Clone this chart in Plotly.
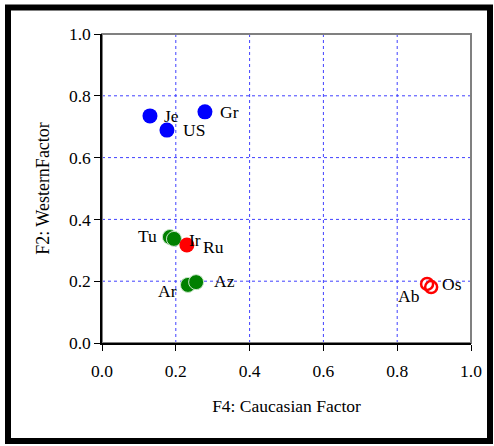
import plotly.graph_objects as go

# Data
blue_names = ["Je", "Gr", "US"]
blue_x = [0.130, 0.279, 0.176]
blue_y = [0.735, 0.748, 0.689]

green_names = ["Tu", "Tu2", "Ar", "Az"]
green_x = [0.184, 0.195, 0.233, 0.255]
green_y = [0.343, 0.337, 0.188, 0.197]

red_names = ["Ir"]
red_x = [0.230]
red_y = [0.317]

open_names = ["Ab", "Os"]
open_x = [0.881, 0.892]
open_y = [0.191, 0.181]

label_text = ["Je", "US", "Gr", "Tu", "Ir", "Ru", "Ar", "Az", "Ab", "Os"]
label_x = [0.130, 0.176, 0.279, 0.184, 0.230, 0.230, 0.233, 0.255, 0.881, 0.892]
label_y = [0.735, 0.689, 0.748, 0.343, 0.317, 0.317, 0.188, 0.197, 0.191, 0.181]
label_dx = [22, 27, 25, -22, 8, 27, -20, 28, -18, 21]
label_dy = [0, 0, 0, 1, 5, -2, -6, 1, -12, 3]

tick_vals = [0.0, 0.2, 0.4, 0.6, 0.8, 1.0]

serif = "Liberation Serif"

fig = go.Figure()
fig.add_trace(go.Scatter(x=blue_x, y=blue_y, mode="markers",
                         marker=dict(size=15, color="#0000FF", line=dict(width=0))))
fig.add_trace(go.Scatter(x=green_x, y=green_y, mode="markers",
                         marker=dict(size=15, color="#008000", line=dict(width=1, color="#c8e6c8"))))
fig.add_trace(go.Scatter(x=red_x, y=red_y, mode="markers",
                         marker=dict(size=15, color="#FF0000", line=dict(width=0))))
fig.add_trace(go.Scatter(x=open_x, y=open_y, mode="markers",
                         marker=dict(size=12, color="#FF0000", symbol="circle-open",
                                     line=dict(width=2.5, color="#FF0000"))))

for t, x, y, dx, dy in zip(label_text, label_x, label_y, label_dx, label_dy):
    fig.add_annotation(x=x, y=y, text=t, showarrow=False, xshift=dx, yshift=dy,
                       font=dict(family=serif, size=17.5, color="black"))

# blue dotted gridlines at tick values
for v in tick_vals[1:-1]:
    fig.add_shape(type="line", xref="x", yref="paper", x0=v, x1=v, y0=0, y1=1,
                  line=dict(color="#4040FF", width=1, dash="dot"), layer="below")
    fig.add_shape(type="line", xref="paper", yref="y", x0=0, x1=1, y0=v, y1=v,
                  line=dict(color="#4040FF", width=1, dash="dot"), layer="below")

# gray frame on top/right
fig.add_shape(type="rect", xref="paper", yref="paper", x0=0, y0=0, x1=1, y1=1,
              line=dict(color="#808080", width=2), layer="below")
# outer black border
fig.add_shape(type="rect", xref="paper", yref="paper",
              x0=(8 - 102) / 369, x1=(490 - 102) / 369,
              y0=(343 - 441) / 309, y1=(343 - 7.5) / 309,
              line=dict(color="black", width=6))

axis_common = dict(range=[0, 1], tickvals=tick_vals, tickformat=".1f", showgrid=False,
                   zeroline=False, showline=True, linecolor="black", linewidth=1.5,
                   ticks="outside", ticklen=6, tickcolor="black",
                   tickfont=dict(family=serif, size=17.5, color="black"))

fig.update_layout(
    width=494, height=446,
    margin=dict(l=102, r=23, t=34, b=103),
    paper_bgcolor="white", plot_bgcolor="white",
    showlegend=False,
    xaxis=dict(**axis_common, ticklabelstandoff=5,
               title=dict(text="F4: Caucasian Factor",
                          font=dict(family=serif, size=17.5, color="black"),
                          standoff=20)),
    yaxis=dict(**axis_common, title=dict(text="F2: WesternFactor",
                                         font=dict(family=serif, size=18, color="black"),
                                         standoff=15)),
)

fig.write_html("out.html")
